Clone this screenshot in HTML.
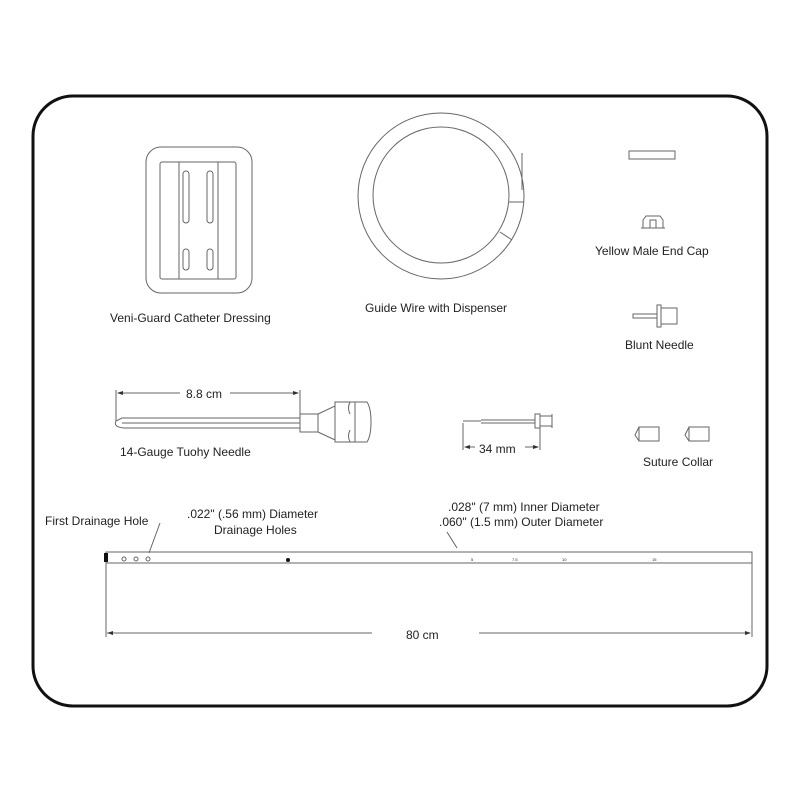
<!DOCTYPE html>
<html><head><style>body{margin:0;background:#fff}svg{display:block}text{font-family:"Liberation Sans",Arial,sans-serif;font-size:12px;fill:#222}</style></head>
<body>
<svg width="800" height="800" viewBox="0 0 800 800">
<rect x="33" y="96" width="734" height="610" rx="40" fill="none" stroke="#111" stroke-width="3"/>
<g fill="none" stroke="#666" stroke-width="1">
<rect x="146" y="147" width="106" height="146" rx="15"/>
<rect x="160" y="162" width="76" height="117" rx="2"/>
<line x1="179" y1="162" x2="179" y2="279"/><line x1="218" y1="162" x2="218" y2="279"/>
<rect x="183" y="171" width="6" height="52" rx="3"/><rect x="207" y="171" width="6" height="52" rx="3"/>
<rect x="183" y="249" width="6" height="21" rx="3"/><rect x="207" y="249" width="6" height="21" rx="3"/>
<circle cx="441" cy="196" r="83"/><circle cx="441" cy="195" r="68"/>
<line x1="509" y1="202" x2="524" y2="202"/><line x1="500" y1="232" x2="512" y2="240"/>
<line x1="522" y1="153" x2="522" y2="190"/>
<rect x="629" y="151" width="46" height="8"/>
<path d="M643 228 v-8 l3 -4 h14 l3 4 v8 M650 228 v-8 h6 v8 M641 228 h24"/>
<path d="M633 314 h24 v4 h-24 z M657 305 v22 h4 v-22 z M661 308 h16 v16 h-16 M677 308 v16"/>
<path d="M639 427 l-4 8 l4 6 M639 427 h20 v14 h-20 z M689 427 l-4 8 l4 6 M689 427 h20 v14 h-20 z"/>
<path d="M116 421 q-3 6 8 7 h176 v-10 h-178 z"/><line x1="122" y1="423" x2="300" y2="423"/>
<path d="M300 414 h18 v18 h-18 z M318 414 l17 -8 v34 l-17 -8"/>
<path d="M335 402 h32 q4 6 4 20 q0 14 -4 20 h-32 z M350 402 q-3 6 0 12 M350 430 q-3 6 0 12 M355 402 v40"/>
<path d="M463 421 h18 M481 420 h54 v3 h-54 M535 414 h5 v14 h-5 z M540 416 h12 v10 h-12 M552 414 v14"/>
<rect x="106" y="552" width="646" height="11"/>
<line x1="106" y1="563" x2="106" y2="637"/><line x1="752" y1="563" x2="752" y2="637"/>
<circle cx="124" cy="559" r="2"/><circle cx="136" cy="559" r="2"/><circle cx="148" cy="559" r="2"/>
<line x1="107" y1="633" x2="372" y2="633"/><line x1="479" y1="633" x2="750" y2="633"/>
<line x1="116" y1="390" x2="116" y2="421"/><line x1="300" y1="390" x2="300" y2="414"/>
<line x1="118" y1="393" x2="180" y2="393"/><line x1="230" y1="393" x2="298" y2="393"/>
<line x1="463" y1="423" x2="463" y2="450"/><line x1="540" y1="428" x2="540" y2="450"/>
<line x1="465" y1="447" x2="475" y2="447"/><line x1="525" y1="447" x2="538" y2="447"/>
<line x1="160" y1="523" x2="149" y2="553"/><line x1="447" y1="532" x2="457" y2="548"/>
</g>
<g fill="#333">
<path d="M107 633 l6 -2 v4 z M751 633 l-6 -2 v4 z M117 393 l6 -2 v4 z M299 393 l-6 -2 v4 z M464 447 l6 -2 v4 z M539 447 l-6 -2 v4 z"/>
</g>
<rect x="104" y="553" width="4" height="9" fill="#111"/>
<circle cx="288" cy="560" r="2" fill="#111"/>
<text x="471" y="561" style="font-size:4px">5</text><text x="512" y="561" style="font-size:4px">7.5</text><text x="562" y="561" style="font-size:4px">10</text><text x="652" y="561" style="font-size:4px">15</text>
<text x="110" y="322">Veni-Guard Catheter Dressing</text>
<text x="365" y="312">Guide Wire with Dispenser</text>
<text x="595" y="255">Yellow Male End Cap</text>
<text x="625" y="349">Blunt Needle</text>
<text x="186" y="398">8.8 cm</text>
<text x="120" y="456">14-Gauge Tuohy Needle</text>
<text x="479" y="453">34 mm</text>
<text x="643" y="466">Suture Collar</text>
<text x="45" y="525">First Drainage Hole</text>
<text x="187" y="518">.022" (.56 mm) Diameter</text>
<text x="214" y="534">Drainage Holes</text>
<text x="448" y="511">.028" (7 mm) Inner Diameter</text>
<text x="439" y="526">.060" (1.5 mm) Outer Diameter</text>
<text x="406" y="639">80 cm</text>
</svg>
</body></html>
